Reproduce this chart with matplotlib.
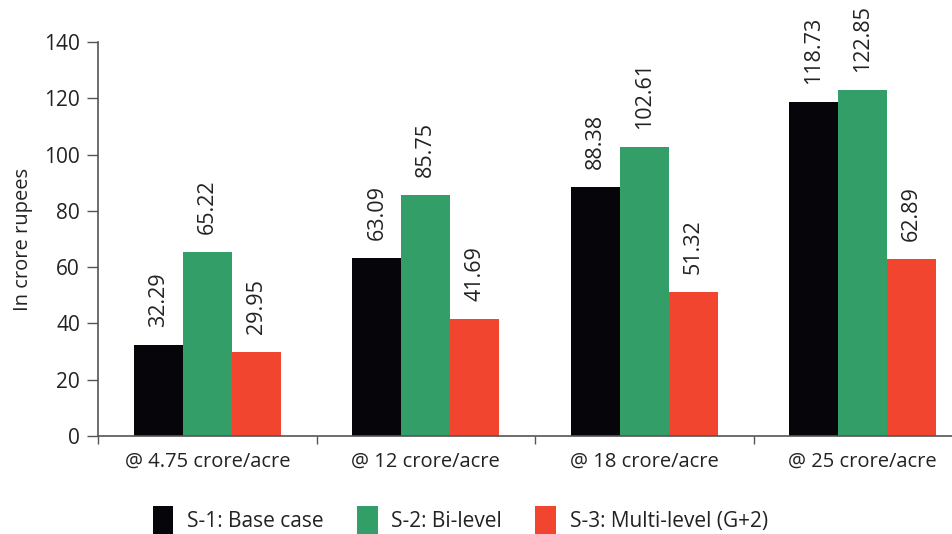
import numpy as np
import matplotlib
matplotlib.use("Agg")
import matplotlib.pyplot as plt
from matplotlib.patches import Patch

plt.rcParams["font.family"] = ["Open Sans", "DejaVu Sans"]

categories = ["@ 4.75 crore/acre", "@ 12 crore/acre", "@ 18 crore/acre", "@ 25 crore/acre"]
series_names = ["S-1: Base case", "S-2: Bi-level", "S-3: Multi-level (G+2)"]
base_case = [32.29, 63.09, 88.38, 118.73]
bi_level = [65.22, 85.75, 102.61, 122.85]
multi_level = [29.95, 41.69, 51.32, 62.89]
colors = ["#06060a", "#339e68", "#f2452f"]

fig = plt.figure(figsize=(9.53, 5.34), dpi=100)
ax = fig.add_axes([98 / 953, (534 - 436) / 534, 855 / 953, 394 / 534])

x = np.arange(len(categories))
w = 0.224
for i, (vals, c) in enumerate(zip([base_case, bi_level, multi_level], colors)):
    pos = x + (i - 1) * w
    ax.bar(pos, vals, width=w, color=c, edgecolor="none")
    for px, v in zip(pos, vals):
        ax.annotate(f"{v:.2f}", (px, v), xytext=(0, 13), textcoords="offset points",
                    rotation=90, ha="center", va="bottom", fontsize=15.5, color="#222222")

ax.set_xlim(-0.5, 3.413)
ax.set_ylim(0, 140)
ax.set_yticks(range(0, 141, 20))
ax.tick_params(axis="y", labelsize=15, length=8, width=1, color="#555555", pad=5)
# major ticks mark category boundaries, minor ticks carry the labels
ax.set_xticks(np.arange(-0.5, 3.5, 1.0), minor=False)
ax.set_xticklabels([])
ax.set_xticks(x, minor=True)
ax.set_xticklabels(categories, minor=True, fontsize=14.5)
ax.tick_params(axis="x", which="major", length=6, width=1, color="#555555")
ax.tick_params(axis="x", which="minor", length=0, pad=11, colors="#222222")
ax.tick_params(axis="y", colors="#555555", labelcolor="#222222")
for s in ["top", "right"]:
    ax.spines[s].set_visible(False)
for s in ["left", "bottom"]:
    ax.spines[s].set_color("#555555")
    ax.spines[s].set_linewidth(1.2)
ax.set_ylabel("In crore rupees", fontsize=14.5, labelpad=8, color="#222222")

handles = [Patch(facecolor=c, edgecolor="none") for c in colors]
fig.legend(handles, series_names, loc="lower center", bbox_to_anchor=(0.483, -0.036),
           ncol=3, frameon=False, fontsize=15, handlelength=1.0, handleheight=1.7,
           columnspacing=1.6, handletextpad=0.65, labelcolor="#222222")

fig.savefig("out.png", dpi=100)
